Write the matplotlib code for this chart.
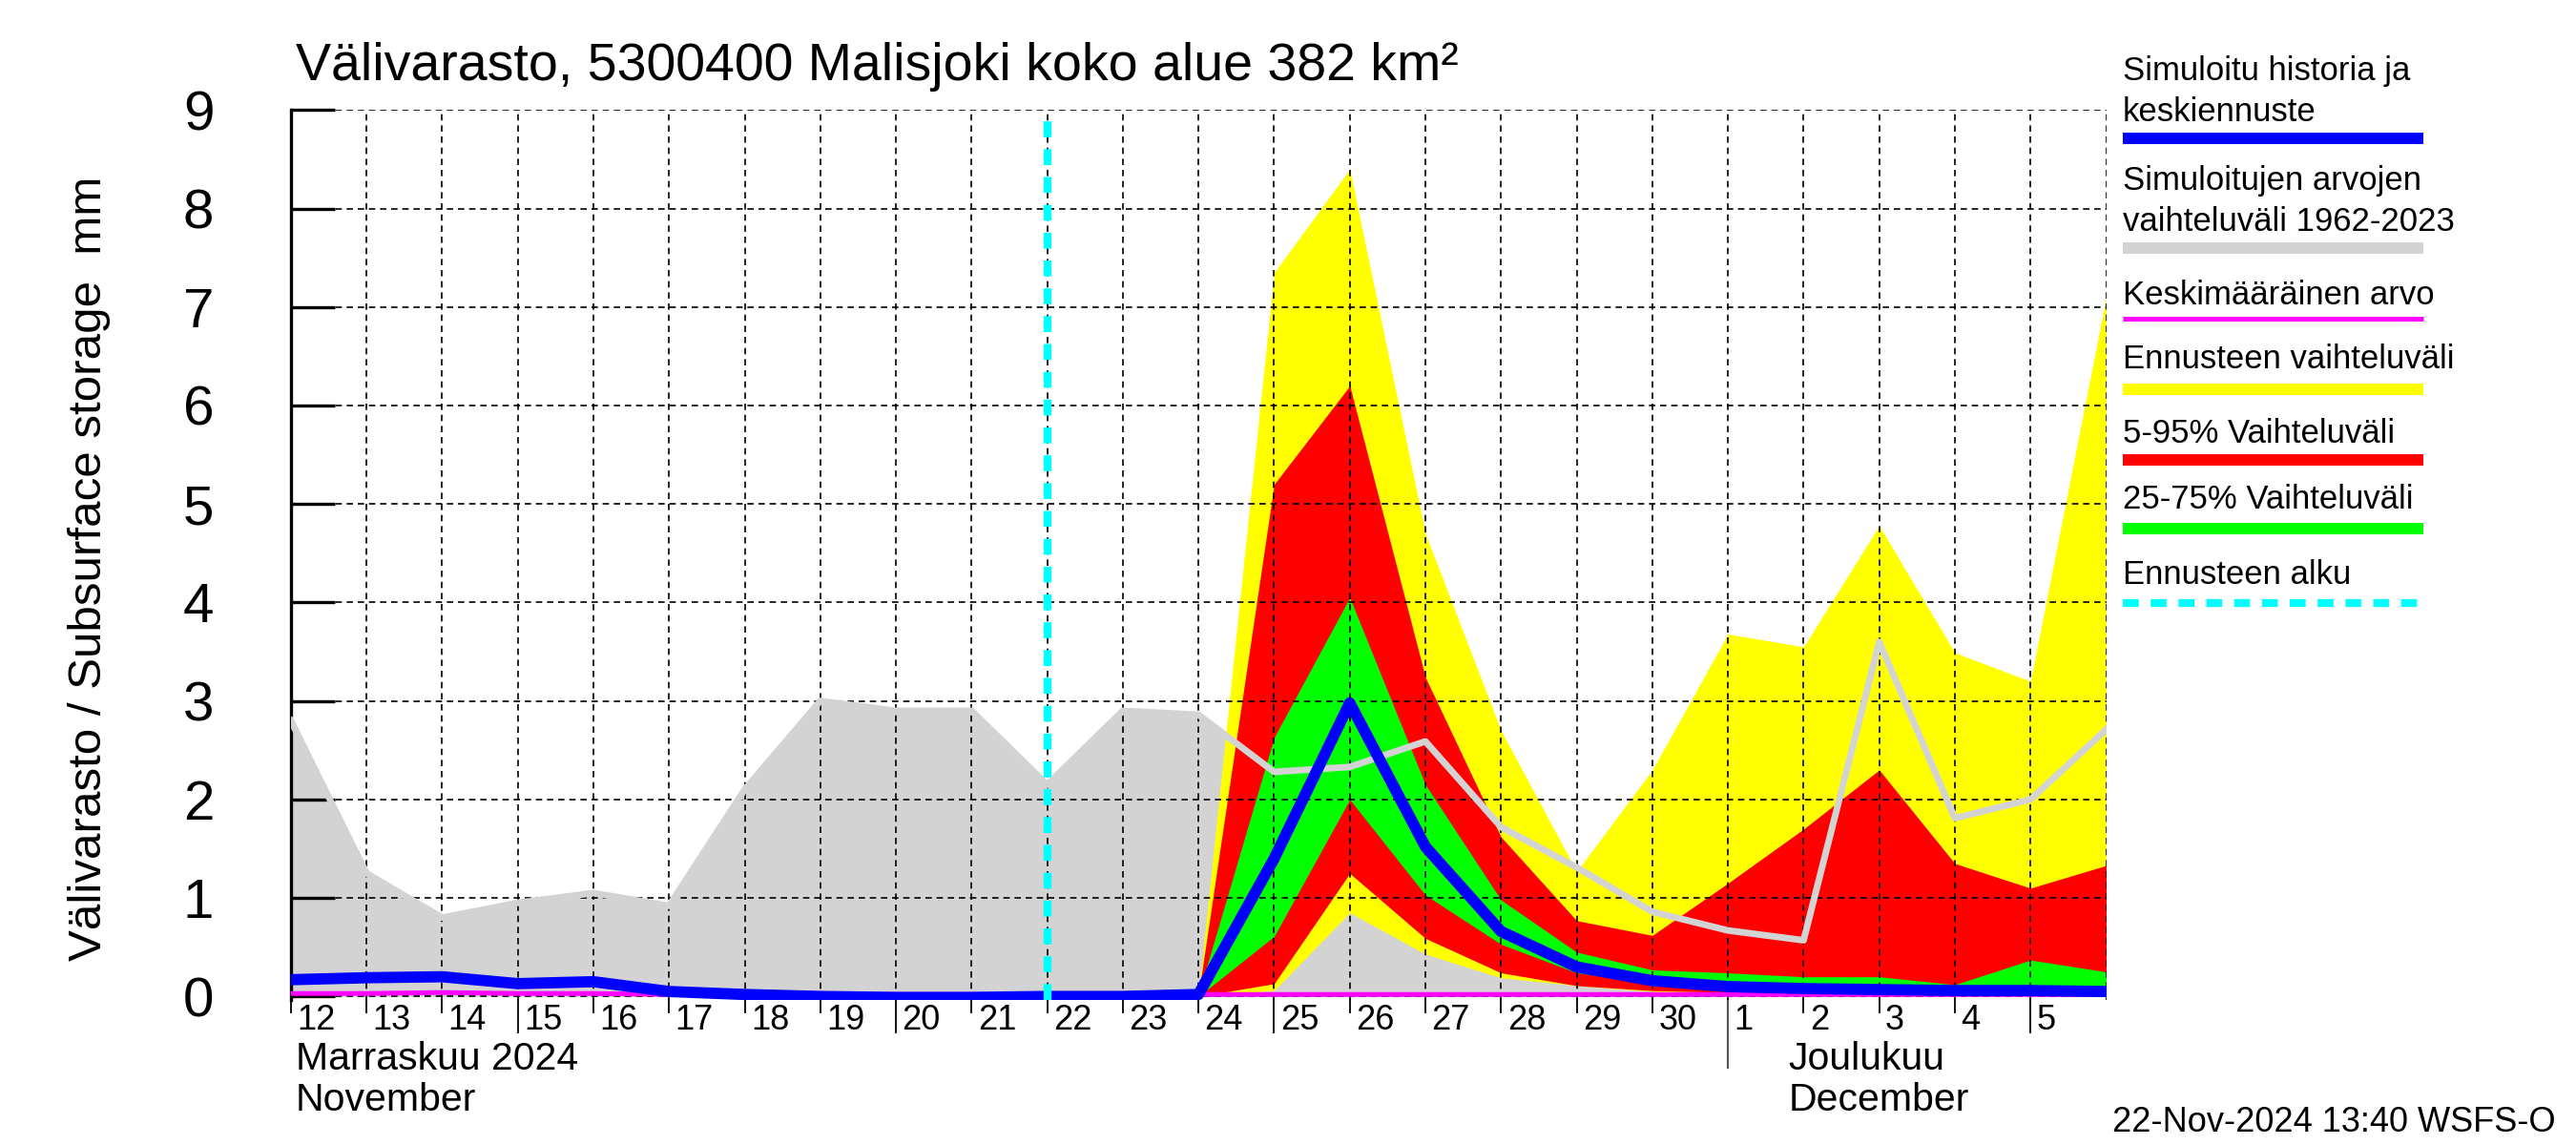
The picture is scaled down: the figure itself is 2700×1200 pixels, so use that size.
import numpy as np
import pandas as pd
import matplotlib
matplotlib.use('Agg')
import matplotlib.pyplot as plt
import matplotlib.dates as mdates
import matplotlib.transforms as mtransforms
from matplotlib import font_manager
from matplotlib.lines import Line2D

# Päivät (vuorokauden vaihteet), historia + ennuste
paivat = pd.date_range('2024-11-12', '2024-12-06', freq='D')
ennuste_paivat = pd.date_range('2024-11-24', '2024-12-06', freq='D')
ennusteen_alku = pd.Timestamp('2024-11-22')

# Simuloitujen arvojen vaihteluväli 1962-2023
hist_max = [2.8, 1.25, 0.8, 0.95, 1.05, 0.92, 2.1, 3.0, 2.9, 2.9, 2.15, 2.9, 2.86,
            2.28, 2.33, 2.59, 1.72, 1.31, 0.86, 0.67, 0.57, 3.6, 1.81, 2.0, 2.71]
hist_min = [0.0] * 25
keskiarvo = [0.03, 0.03, 0.04, 0.03, 0.03, 0.02, 0.02, 0.02, 0.02, 0.02, 0.02, 0.02, 0.02,
             0.02, 0.02, 0.02, 0.02, 0.02, 0.02, 0.02, 0.02, 0.02, 0.02, 0.02, 0.02]
simuloitu = [0.17, 0.19, 0.2, 0.13, 0.15, 0.05, 0.02, 0.0, -0.01, -0.01, 0.0, 0.0, 0.02,
             1.4, 2.98, 1.52, 0.66, 0.3, 0.16, 0.1, 0.08, 0.07, 0.06, 0.06, 0.05]

# Ennusteen vaihteluvälit (24.11. - 6.12.)
kelt_yla = [0.02, 7.35, 8.4, 4.7, 2.7, 1.27, 2.3, 3.68, 3.55, 4.78, 3.49, 3.2, 7.1]
kelt_ala = [0.0, 0.06, 0.85, 0.43, 0.19, 0.11, 0.05, 0.02, 0.02, 0.02, 0.02, 0.02, 0.02]
pun_yla = [0.02, 5.2, 6.2, 3.24, 1.62, 0.77, 0.62, 1.15, 1.7, 2.3, 1.35, 1.1, 1.33]
pun_ala = [0.0, 0.13, 1.25, 0.59, 0.24, 0.11, 0.06, 0.04, 0.03, 0.03, 0.03, 0.03, 0.03]
vihr_yla = [0.02, 2.63, 4.05, 2.15, 0.98, 0.45, 0.27, 0.24, 0.2, 0.2, 0.12, 0.37, 0.25]
vihr_ala = [0.0, 0.61, 2.0, 1.03, 0.53, 0.24, 0.14, 0.09, 0.07, 0.06, 0.05, 0.05, 0.05]

paiva_tekstit = [str(d.day) for d in paivat[:-1]]
pitkat = [5, 10, 15, 20, 25]

# kapea fontti jos löytyy, muuten tavallinen
kapea = 'Liberation Sans'
for f in font_manager.fontManager.ttflist:
    if f.name == 'Liberation Sans Narrow' or 'SansNarrow-Regular' in f.fname:
        kapea = f.name
        break
leveä = 'Liberation Sans'

fig = plt.figure(figsize=(27, 12), dpi=100)
ax = fig.add_axes([0.1129, 0.1263, 0.7047, 0.7776])

ax.fill_between(paivat, hist_min, hist_max, color='#d3d3d3', lw=0, zorder=1)
ax.fill_between(ennuste_paivat, kelt_ala, kelt_yla, color='#ffff00', lw=0, zorder=1.1)
ax.fill_between(ennuste_paivat, pun_ala, pun_yla, color='#ff0000', lw=0, zorder=1.2)
ax.fill_between(ennuste_paivat, vihr_ala, vihr_yla, color='#00ff00', lw=0, zorder=1.3)
ax.plot(paivat, hist_max, color='#d3d3d3', lw=5, zorder=3)
ax.plot(paivat, keskiarvo, color='#ff00ff', lw=3.6, zorder=3.5)
ax.plot(paivat, simuloitu, color='#0000ff', lw=8.5, zorder=4)
ax.axvline(ennusteen_alku, ymax=0.99, color='#00ffff', lw=6, dashes=(2, 1.5), zorder=5)

ax.set_xlim(paivat[0], paivat[-1])
ax.set_ylim(-0.04, 9)
ax.set_xticks(paivat)
ax.set_xticklabels([])
ax.tick_params(axis='x', length=0)
ax.set_yticks(range(10))
ax.tick_params(axis='y', direction='in', length=33, width=2.4, pad=58, labelsize=42)
for t in ax.get_yticklabels():
    t.set_family(leveä)
ax.set_axisbelow(False)
ax.grid(True, color='black', linestyle=(0, (4, 3)), linewidth=1.2)
for s in ['top', 'right', 'bottom']:
    ax.spines[s].set_visible(False)
ax.spines['left'].set_linewidth(2.4)

# Päivien merkit ja tekstit akselin alla
trans = mtransforms.blended_transform_factory(ax.transData, ax.transAxes)
for d, teksti in zip(paivat[:-1], paiva_tekstit):
    x = mdates.date2num(d)
    if d.day == 1:
        ax.plot([x, x], [0, -0.076], color='#555555', lw=1.5, transform=trans, clip_on=False)
    elif d.day in pitkat:
        ax.plot([x, x], [0, -0.036], color='black', lw=1.3, transform=trans, clip_on=False)
    else:
        ax.plot([x, x], [0, -0.013], color='black', lw=1.3, transform=trans, clip_on=False)
    ax.text(x + 0.08, -0.004, teksti, transform=trans, ha='left', va='top',
            fontsize=26, family=kapea)

x0 = mdates.date2num(paivat[0])
ax.text(x0 + 0.06, -0.046, 'Marraskuu 2024', transform=trans, ha='left', va='top',
        fontsize=29.5, family=kapea)
ax.text(x0 + 0.06, -0.092, 'November', transform=trans, ha='left', va='top',
        fontsize=29.5, family=kapea)
xj = mdates.date2num(pd.Timestamp('2024-12-01'))
ax.text(xj + 0.8, -0.046, 'Joulukuu', transform=trans, ha='left', va='top',
        fontsize=29.5, family=kapea)
ax.text(xj + 0.8, -0.092, 'December', transform=trans, ha='left', va='top',
        fontsize=29.5, family=kapea)

fig.text(0.115, 0.942, 'Välivarasto, 5300400 Malisjoki koko alue 382 km²', ha='left',
         va='center', fontsize=40, family=kapea)
ax.set_ylabel('Välivarasto / Subsurface storage  mm', fontsize=35.5, family=kapea)
ax.yaxis.set_label_coords(-0.099, 0.485)
fig.text(0.992, 0.02, '22-Nov-2024 13:40 WSFS-O', ha='right', va='center',
         fontsize=26, family=kapea)

# Selite
lx0, lx1 = 0.824, 0.9407
selitteet = [
    (['Simuloitu historia ja', 'keskiennuste'], [0.938, 0.902], 0.879, '#0000ff', 8.6, None),
    (['Simuloitujen arvojen', 'vaihteluväli 1962-2023'], [0.842, 0.806], 0.783, '#d3d3d3', 8.6, None),
    (['Keskimääräinen arvo'], [0.742], 0.722, '#ff00ff', 3.6, None),
    (['Ennusteen vaihteluväli'], [0.686], 0.660, '#ffff00', 8.6, None),
    (['5-95% Vaihteluväli'], [0.621], 0.598, '#ff0000', 8.6, None),
    (['25-75% Vaihteluväli'], [0.564], 0.538, '#00ff00', 8.6, None),
    (['Ennusteen alku'], [0.498], 0.473, '#00ffff', 6, (2, 1.5)),
]
for rivit, ypos, yviiva, vari, lw, viivat in selitteet:
    for r, y in zip(rivit, ypos):
        fig.text(lx0, y, r, ha='left', va='center', fontsize=25, family=leveä)
    viiva = Line2D([lx0, lx1], [yviiva, yviiva], color=vari, lw=lw, transform=fig.transFigure,
                   solid_capstyle='butt')
    if viivat:
        viiva.set_dashes(viivat)
        viiva.set_dash_capstyle('butt')
    fig.add_artist(viiva)

fig.savefig('out.png', dpi=100)
